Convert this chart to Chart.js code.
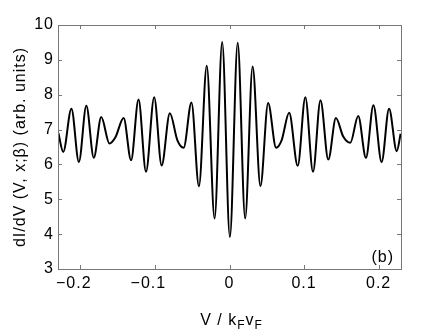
<!DOCTYPE html>
<html>
<head>
<meta charset="utf-8">
<script src="https://cdn.jsdelivr.net/npm/chart.js@4.4.0/dist/chart.umd.min.js"></script>
<style>
  html, body { margin: 0; padding: 0; background: #fff; }
  #wrap { position: relative; width: 443px; height: 333px; }
  #xlab {
    position: absolute; left: 60px; width: 343px; top: 311px;
    text-align: center; font: 16px "Liberation Sans", Arial, sans-serif; color: #000;
    letter-spacing: 1px; white-space: nowrap;
  }
  #xlab sub { font-size: 12px; vertical-align: -4px; line-height: 0; }
</style>
</head>
<body>
<div id="wrap">
  <canvas id="myChart" width="443" height="333"></canvas>
  <div id="xlab">V / k<sub>F</sub>v<sub>F</sub></div>
</div>
<script>
// 극값 위주로 읽은 곡선 값
const voltage = [
  -0.2295, -0.223, -0.212, -0.202, -0.192, -0.182, -0.172, -0.161, -0.153, -0.142,
  -0.132, -0.122, -0.112, -0.101, -0.091, -0.080, -0.070, -0.0615, -0.051, -0.041,
  -0.0305, -0.020, -0.0098, 0.0005, 0.011, 0.021, 0.031, 0.0415, 0.0518, 0.0625,
  0.070, 0.080, 0.0915, 0.1017, 0.112, 0.122, 0.1325, 0.1427, 0.1525, 0.162,
  0.1726, 0.183, 0.193, 0.204, 0.214, 0.2243, 0.2295
];
const dIdV = [
  6.90, 6.36, 7.60, 6.07, 7.68, 6.19, 7.36, 6.60, 6.78, 7.33,
  6.12, 7.86, 5.79, 7.93, 5.97, 7.47, 6.70, 6.48, 7.78, 5.37,
  8.83, 4.45, 9.51, 3.92, 9.49, 4.45, 8.81, 5.38, 7.76, 6.48,
  6.70, 7.48, 5.96, 7.93, 5.79, 7.84, 6.14, 7.33, 6.80, 6.62,
  7.39, 6.19, 7.70, 6.07, 7.60, 6.38, 6.88
];
const xTicks = [-0.2, -0.1, 0, 0.1, 0.2];
// 음수 라벨은 원본처럼 왼쪽으로 약간 치우치게
const xTickLabels = ['\u22120.2\u2002\u2009', '\u22120.1\u2002\u2009', '0', '0.1', '0.2'];
const yTicks = [3, 4, 5, 6, 7, 8, 9, 10];

const FONT = '"Liberation Sans", Arial, sans-serif';

/**
 * 안쪽 눈금, 상자 테두리, (b) 표시
 */
const boxPlugin = {
  id: 'boxPlugin',
  beforeDraw(chart) {
    chart.ctx.letterSpacing = '1px';
  },
  afterDraw(chart) {
    const ctx = chart.ctx;
    const a = chart.chartArea;
    const xs = chart.scales.x;
    const ys = chart.scales.y;
    const tl = 4;
    ctx.save();
    ctx.strokeStyle = '#777';
    ctx.lineWidth = 1;
    ctx.beginPath();
    xTicks.forEach(v => {
      const px = Math.round(xs.getPixelForValue(v)) + 0.5;
      ctx.moveTo(px, a.bottom); ctx.lineTo(px, a.bottom - tl);
      ctx.moveTo(px, a.top); ctx.lineTo(px, a.top + tl);
    });
    yTicks.forEach(v => {
      const py = Math.round(ys.getPixelForValue(v)) + 0.5;
      ctx.moveTo(a.left, py); ctx.lineTo(a.left + tl, py);
      ctx.moveTo(a.right, py); ctx.lineTo(a.right - tl, py);
    });
    ctx.stroke();
    ctx.strokeRect(Math.round(a.left) + 0.5, Math.round(a.top) + 0.5,
      Math.round(a.right - a.left), Math.round(a.bottom - a.top));
    ctx.fillStyle = '#000';
    ctx.font = '16px ' + FONT;
    ctx.textAlign = 'right';
    ctx.textBaseline = 'alphabetic';
    ctx.fillText('(b)', a.right - 7, a.bottom - 7);
    ctx.restore();
  }
};

window.onload = () => {
  const ctx = document.getElementById('myChart').getContext('2d');
  const points = voltage.map((v, i) => ({ x: v, y: dIdV[i] }));
  new Chart(ctx, {
    type: 'line',
    data: {
      datasets: [{
        data: points,
        borderColor: '#000',
        borderWidth: 2,
        pointRadius: 0,
        cubicInterpolationMode: 'monotone',
        fill: false
      }]
    },
    options: {
      responsive: false,
      animation: false,
      layout: { padding: { top: 25, right: 42, left: 0, bottom: 0 } },
      plugins: { legend: { display: false }, tooltip: { enabled: false } },
      scales: {
        x: {
          type: 'linear',
          min: -0.23,
          max: 0.23,
          afterBuildTicks: (scale) => { scale.ticks = xTicks.map(v => ({ value: v })); },
          afterFit: (scale) => { scale.height = 64; },
          grid: { display: false, drawTicks: false },
          border: { display: false },
          ticks: {
            color: '#000',
            padding: 5,
            font: { family: FONT, size: 16 },
            maxRotation: 0,
            callback: (v) => {
              const i = xTicks.findIndex(t => Math.abs(t - v) < 1e-9);
              return i >= 0 ? xTickLabels[i] : '';
            }
          }
        },
        y: {
          min: 3,
          max: 10,
          afterBuildTicks: (scale) => { scale.ticks = yTicks.map(v => ({ value: v })); },
          afterFit: (scale) => { scale.width = 58; },
          grid: { display: false, drawTicks: false },
          border: { display: false },
          ticks: {
            color: '#000',
            padding: 4,
            font: { family: FONT, size: 16 }
          },
          title: {
            display: true,
            text: 'dI/dV (V, x;\u03b2) (arb. units)',
            color: '#000',
            font: { family: FONT, size: 16 },
            padding: { top: 11, bottom: 0 }
          }
        }
      }
    },
    plugins: [boxPlugin]
  });
};
</script>
</body>
</html>
